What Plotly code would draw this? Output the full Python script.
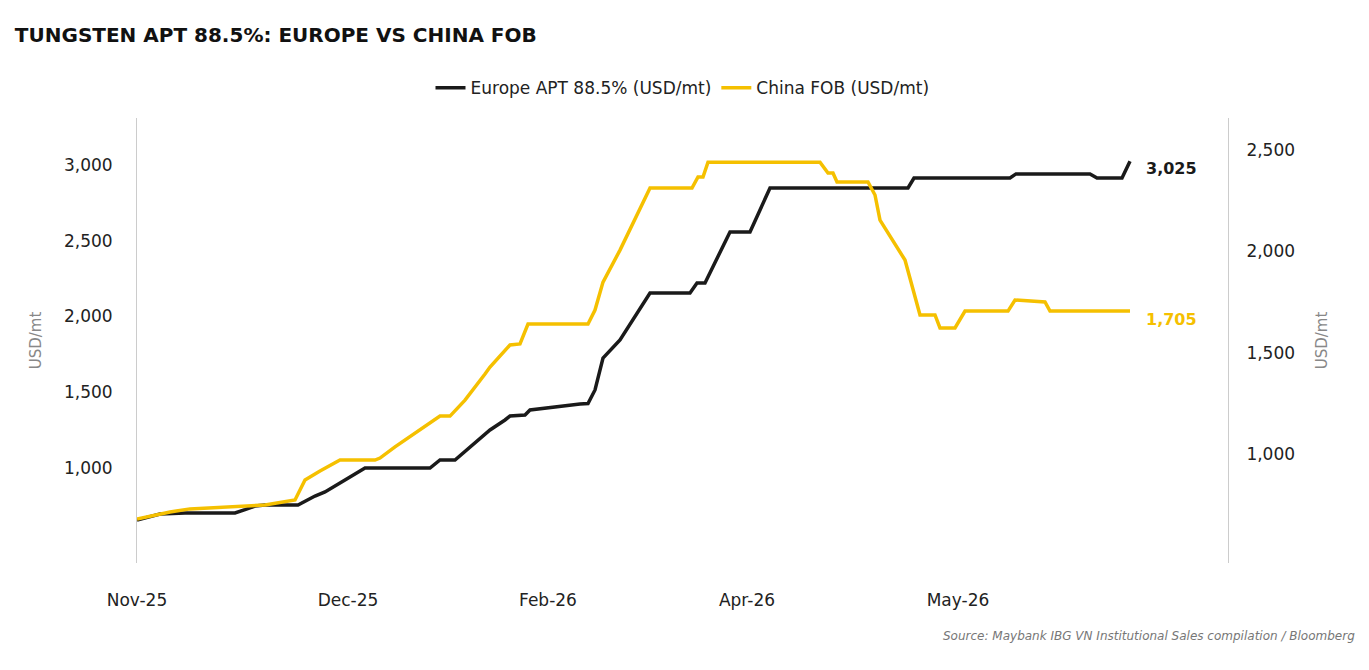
import plotly.graph_objects as go

# x = position along the period (0 = Nov-25 start)
eu_x = [0, 13, 23, 48, 98, 108, 118, 128, 161, 178, 188, 208, 228, 293, 303, 318, 333, 353, 368, 373, 388, 393,
        443, 451, 458, 466, 483, 513, 553, 560, 568, 593, 613, 633, 771, 777, 873, 879, 953, 960, 985, 993]
eu_y = [657, 677, 696, 703, 703, 725, 749, 756, 756, 815, 842, 921, 1000, 1000, 1053, 1053, 1139, 1251, 1317, 1343, 1350, 1383,
        1422, 1425, 1515, 1726, 1845, 2155, 2155, 2221, 2221, 2558, 2558, 2848, 2848, 2914, 2914, 2941, 2941, 2914, 2914, 3025]
cn_x = [0, 33, 53, 93, 128, 158, 168, 183, 203, 238, 243, 258, 288, 295, 303, 313, 328, 348, 353, 373, 383, 391,
        451, 458, 466, 483, 513, 555, 561, 566, 571, 683, 691, 696, 700, 731, 738, 743, 768, 783, 798, 803, 818,
        828, 871, 878, 908, 913, 993]
cn_y = [679, 714, 729, 739, 748, 773, 872, 916, 970, 970, 980, 1035, 1138, 1158, 1187, 1187, 1266, 1395, 1429, 1538, 1543, 1641,
        1641, 1710, 1848, 2006, 2312, 2312, 2367, 2367, 2440, 2440, 2386, 2386, 2342, 2342, 2278, 2154, 1957, 1686, 1686, 1622, 1622,
        1705, 1705, 1760, 1750, 1705, 1705]
tick_pos = [0, 211, 411, 610, 821]
tick_lab = ["Nov-25", "Dec-25", "Feb-26", "Apr-26", "May-26"]

BLACK = "#1a1a1a"
GOLD = "#f5c000"
FONT = "DejaVu Sans"

fig = go.Figure()
fig.add_trace(go.Scatter(x=eu_x, y=eu_y, mode="lines", name="Europe APT 88.5% (USD/mt)",
                         line=dict(color=BLACK, width=3.5)))
fig.add_trace(go.Scatter(x=cn_x, y=cn_y, mode="lines", name="China FOB (USD/mt)", yaxis="y2",
                         line=dict(color=GOLD, width=3.5)))

fig.add_annotation(x=eu_x[-1], y=eu_y[-1], text="<b>3,025</b>", showarrow=False, xanchor="left", xshift=14,
                   yshift=-7, font=dict(color=BLACK, size=16))
fig.add_annotation(x=cn_x[-1], y=cn_y[-1], yref="y2", text="<b>1,705</b>", showarrow=False, xanchor="left", xshift=14,
                   yshift=-8, font=dict(color=GOLD, size=16))

fig.update_layout(
    width=1369, height=670,
    margin=dict(l=129, r=149, t=110, b=115),
    paper_bgcolor="white", plot_bgcolor="white",
    font=dict(family=FONT, color="#222", size=16),
    title=dict(text="<b>TUNGSTEN APT 88.5%: EUROPE VS CHINA FOB</b>", x=0.005, y=0.97, xanchor="left",
               font=dict(size=20, color="#111")),
    legend=dict(orientation="h", x=0.5, xanchor="center", y=1.067, yanchor="middle", font=dict(size=17)),
    xaxis=dict(range=[0, 1091], tickvals=tick_pos, ticktext=tick_lab, showgrid=False, zeroline=False,
               tickfont=dict(size=17), ticks="outside", ticklen=22, tickcolor="white"),
    yaxis=dict(range=[373, 3310], tickvals=[1000, 1500, 2000, 2500, 3000], tickformat=",", showgrid=False,
               zeroline=False, showline=True, linecolor="#ccc", ticks="outside", ticklen=20, tickcolor="white",
               title=dict(text="USD/mt", font=dict(color="#888", size=15), standoff=18), tickfont=dict(size=17)),
    yaxis2=dict(range=[462, 2658], tickvals=[1000, 1500, 2000, 2500], tickformat=",", overlaying="y", side="right",
                showgrid=False, zeroline=False, showline=True, linecolor="#ccc", ticks="outside", ticklen=14,
                tickcolor="white", title=dict(text="USD/mt", font=dict(color="#888", size=15), standoff=22),
                tickfont=dict(size=17)),
)
fig.add_annotation(text="<i>Source: Maybank IBG VN Institutional Sales compilation / Bloomberg</i>", xref="paper",
                   yref="paper", x=1.118, y=-0.185, xanchor="right", showarrow=False,
                   font=dict(size=12, color="#777"))

fig.write_html("out.html")
